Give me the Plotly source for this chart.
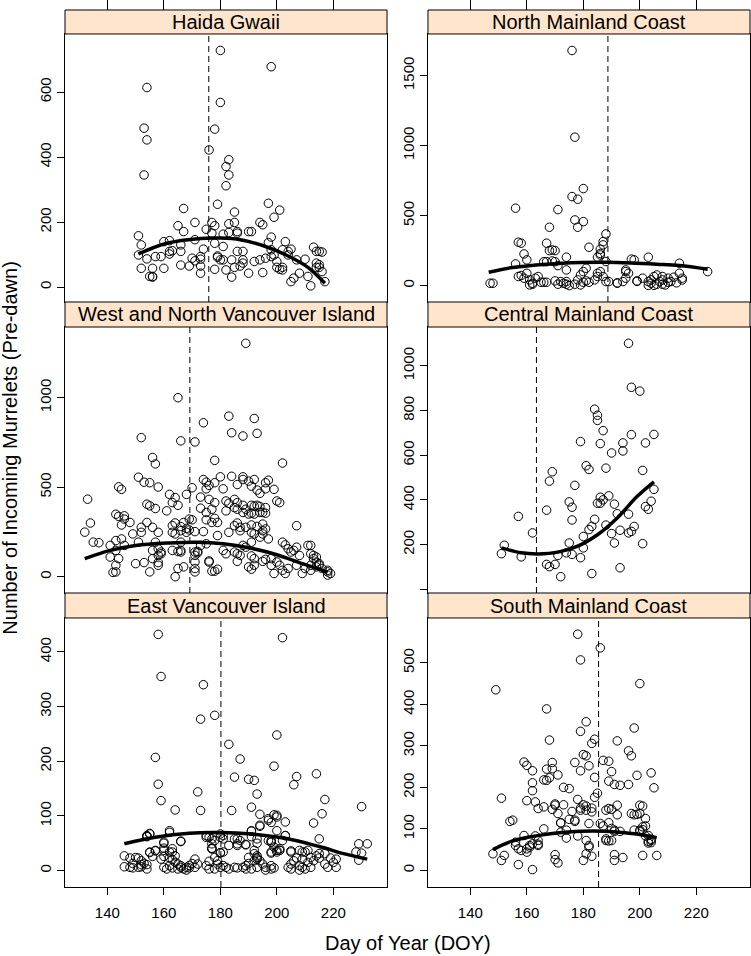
import plotly.graph_objects as go

# ---------------- data (DOY, count) ----------------
panel_names = ["Haida Gwaii", "North Mainland Coast", "West and North Vancouver Island",
               "Central Mainland Coast", "East Vancouver Island", "South Mainland Coast"]

haida_points = [(180,728),(198,678),(154,614),(180,568),(153,489),(154,453),(178,486),(176,422),(153,345),
    (183,392),(182,371),(183,345),(182,312),(179,255),(167,242),(197,258),(201,237),(185,231),(199,215),
    (151,158),(152,130),(151,99),(154,87),(152,58),(156,58),(155,33),(156,33),(156,31),(160,58),(157,94),
    (159,94),(160,140),(162,143),(162,110),(163,112),(162,102),(165,189),(167,171),(166,130),(166,110),
    (166,68),(169,65),(171,199),(171,146),(170,89),(171,81),(173,65),(173,43),(173,86),(174,117),(173,94),
    (175,178),(177,199),(178,189),(177,166),(178,135),(179,92),(180,84),(179,96),(178,55),(181,163),
    (181,125),(181,84),(182,53),(183,195),(183,168),(185,199),(186,166),(186,171),(186,110),(184,84),
    (184,31),(185,61),(187,65),(188,74),(188,84),(188,110),(190,171),(191,171),(190,43),(192,79),(194,84),
    (194,199),(195,192),(195,45),(196,89),(197,137),(198,154),(198,115),(198,94),(199,99),(200,79),
    (200,61),(201,55),(202,61),(202,53),(203,140),(202,115),(204,110),(205,117),(204,99),(206,28),
    (205,17),(207,84),(208,43),(210,86),(211,33),(212,4),(213,123),(214,110),(215,110),(214,74),(215,69),
    (214,61),(215,61),(216,48),(217,17),(216,108)]

north_points = [(176,1679),(177,1060),(180,693),(176,636),(178,617),(156,553),(171,543),(177,469),(180,457),
    (178,417),(168,417),(188,369),(187,314),(157,310),(158,303),(167,303),(182,274),(159,226),(168,250),
    (169,255),(170,250),(160,184),(174,203),(186,260),(186,230),(197,189),(198,184),(203,203),(214,160),
    (156,155),(224,100),(147,17),(148,17),(166,171),(167,171),(171,143),(169,176),(170,171),(174,112),
    (158,72),(157,65),(160,88),(159,53),(161,41),(163,53),(162,10),(161,5),(162,17),(164,65),(165,24),
    (167,24),(166,24),(170,34),(172,29),(173,17),(174,10),(175,0),(177,10),(171,10),(174,29),(178,41),
    (179,76),(180,100),(181,124),(180,24),(181,34),(182,24),(179,5),(185,88),(186,100),(185,65),(187,65),
    (184,41),(186,219),(185,203),(187,291),(188,29),(189,29),(188,172),(192,17),(195,53),(195,100),
    (194,29),(199,34),(201,53),(203,29),(204,41),(205,65),(206,76),(204,17),(206,10),(207,29),(208,41),
    (208,65),(210,53),(210,24),(211,29),(208,10),(209,5),(203,2),(205,2),(214,88),(215,53),(212,60),
    (213,20),(195,112),(196,88),(192,20),(199,30),(215,40)]

west_points = [(189,1304),(165,1000),(183,897),(192,884),(174,860),(184,804),(188,786),(193,801),(152,777),
    (166,759),(171,753),(156,666),(157,630),(178,650),(202,635),(133,433),(132,249),(134,300),(135,193),
    (137,190),(151,556),(153,528),(155,525),(158,501),(144,502),(145,488),(143,349),(144,337),(146,340),
    (145,289),(146,322),(141,110),(143,64),(144,101),(143,27),(142,24),(148,303),(149,239),(152,248),
    (152,276),(154,405),(155,396),(157,381),(154,303),(156,276),(151,193),(158,248),(157,193),(159,138),
    (158,119),(150,73),(153,79),(155,27),(158,79),(158,64),(146,175),(145,211),(143,202),(161,368),
    (162,460),(164,442),(163,414),(165,399),(163,285),(164,300),(163,248),(164,239),(166,257),(166,280),
    (168,460),(169,322),(170,318),(170,497),(167,303),(168,270),(169,261),(168,248),(166,193),(166,147),
    (164,0),(165,46),(167,55),(171,138),(172,141),(171,46),(171,27),(171,82),(171,252),(174,252),
    (173,445),(174,543),(175,528),(175,491),(176,510),(173,383),(175,359),(176,432),(177,377),(178,414),
    (178,326),(179,303),(177,303),(175,318),(179,230),(176,88),(177,31),(179,42),(180,558),(181,491),
    (178,525),(182,423),(183,410),(182,368),(185,432),(186,414),(186,377),(184,561),(186,515),(188,558),
    (188,543),(190,534),(192,543),(191,506),(193,484),(194,466),(196,491),(197,539),(196,525),(199,488),
    (200,423),(201,414),(188,399),(189,377),(191,399),(192,394),(193,399),(194,392),(196,386),(191,355),
    (192,350),(194,359),(195,359),(196,355),(190,350),(185,386),(188,359),(185,285),(186,300),(187,276),
    (187,257),(183,248),(189,276),(191,289),(193,281),(195,257),(195,239),(194,221),(196,267),(197,211),
    (195,294),(192,239),(191,193),(191,248),(202,193),(203,178),(204,156),(205,138),(207,165),(207,285),
    (208,119),(206,147),(185,138),(186,128),(187,119),(189,165),(188,175),(191,116),(192,101),(192,64),
    (190,55),(191,42),(186,86),(195,86),(196,97),(198,101),(200,82),(201,64),(202,36),(204,46),(203,18),
    (199,18),(198,64),(207,64),(209,18),(210,46),(211,175),(212,175),(212,128),(213,119),(213,101),
    (214,110),(214,82),(215,73),(215,64),(216,46),(218,36),(218,27),(219,18),(218,9),(212,64),(212,36),
    (214,55),(141,175),(143,147),(156,147),(158,156),(159,128),(156,101),(163,147),(165,141),(166,138),
    (171,119),(172,134),(173,175),(175,184),(181,147),(182,128),(176,82),(178,31)]

central_points = [(196,1101),(197,904),(200,887),(184,806),(185,779),(185,756),(187,710),(197,692),(205,693),
    (179,661),(186,652),(194,655),(202,655),(190,610),(194,619),(181,553),(182,536),(188,542),(201,532),
    (169,526),(168,484),(177,465),(205,447),(189,418),(186,412),(187,400),(185,385),(186,385),(175,391),
    (191,381),(204,394),(176,367),(202,370),(203,358),(167,354),(157,326),(176,310),(184,313),(192,338),
    (196,336),(183,281),(182,267),(188,287),(198,281),(162,252),(190,249),(193,264),(196,252),(197,259),
    (180,236),(152,197),(175,207),(191,207),(201,204),(151,159),(158,145),(171,151),(176,156),(174,163),
    (180,185),(179,141),(167,111),(168,101),(170,111),(193,96),(183,70),(172,56)]

east_points = [(158,432),(202,426),(159,355),(174,340),(173,277),(178,284),(200,248),(183,231),(157,207),
    (187,204),(199,191),(214,177),(207,172),(185,171),(190,167),(192,165),(158,158),(206,157),(172,144),
    (193,140),(217,130),(159,128),(164,111),(173,110),(184,110),(191,116),(230,117),(213,87),(216,104),
    (194,103),(203,89),(199,102),(200,101),(198,88),(197,95),(194,81),(200,73),(191,72),(162,70),(155,67),
    (154,63),(203,64),(180,67),(177,58),(181,58),(215,58),(202,55),(166,54),(198,52),(229,49),(232,49),
    (160,50),(157,36),(155,33),(156,26),(181,34),(201,37),(200,34),(205,36),(198,32),(186,49),(189,47),
    (177,40),(230,32),(228,34),(229,19),(211,37),(209,34),
    (146,27),(148,23),(150,24),(151,23),(152,18),(153,13),(154,11),(146,7),(148,6),(149,5),(151,6),
    (152,7),(154,3),(149,13),(152,11),
    (159,21),(160,26),(162,23),(163,20),(164,15),(165,12),(166,9),(168,6),(169,9),(170,13),(171,21),
    (160,6),(161,3),(162,9),(163,5),(165,3),(166,6),(167,3),(168,1),(169,5),(171,6),(172,12),(160,37),
    (162,34),(160,52),(164,27),(157,37),(155,34),(154,64),(155,68),(162,73),
    (175,9),(176,17),(178,24),(179,12),(180,6),(181,9),(182,6),(183,3),(185,6),(186,5),(176,3),(178,3),
    (179,18),(180,32),(177,40),(180,61),(178,55),(181,64),(175,64),(183,46),(185,58),(187,55),
    (188,6),(189,9),(190,13),(192,18),(193,21),(194,18),(195,12),(196,6),(198,3),(199,5),(189,3),(191,3),
    (193,6),(196,1),(198,9),(190,24),(192,37),(193,27),(197,55),(198,52),(199,43),(200,37),(201,37),
    (204,6),(205,12),(206,18),(207,23),(208,9),(209,6),(211,15),(212,24),(213,18),(214,27),(215,23),
    (217,12),(218,6),(219,23),(220,15),(221,21),(205,3),(208,1),(210,3),(212,6),(215,31),(217,31),(221,6),
    (210,34),(208,37),(205,34),(209,21),
    (154,62),(166,53),(160,41),(163,40),(163,34),(175,61),(176,61),(177,41),(177,49),(180,33),(186,58),
    (186,46),(189,48),(191,73),(191,62),(193,50),(193,58),(192,31),(193,24),(194,83),(197,92),(200,98),
    (203,64),(198,55),(201,40),(198,34)]

south_points = [(178,569),(186,536),(179,507),(200,450),(149,435),(167,389),(181,358),(198,343),(179,335),
    (184,316),(183,306),(168,314),(192,312),(180,279),(181,276),(196,288),(197,276),(159,261),(160,253),
    (177,260),(187,265),(189,263),(169,260),(182,252),(162,240),(167,244),(169,245),(179,240),(190,238),
    (204,235),(171,230),(199,229),(168,223),(167,217),(166,218),(184,224),(162,211),(189,215),(193,205),
    (191,207),(196,207),(173,200),(175,197),(205,199),(162,192),(185,186),(184,176),(151,174),(178,171),
    (160,168),(163,165),(170,160),(173,158),(176,142),(180,158),(181,155),(183,150),(183,141),(192,157),
    (201,155),(164,149),(166,153),(169,147),(171,137),(179,150),(188,145),(189,149),(190,147),(192,134),
    (197,137),(198,134),(200,137),(202,125),(154,118),(155,121),(175,123),(177,118),(172,115),(182,113),
    (186,113),(187,107),(189,115),(202,107),(166,100),(159,84),(156,68),(163,83),(164,72),(162,64),
    (164,60),(174,97),(172,92),(178,83),(181,72),(182,60),(174,78),(188,72),(190,72),(193,94),(191,94),
    (200,94),(201,98),(202,83),(203,70),(204,67),(204,75),(156,60),(157,52),(158,48),(160,52),(161,60),
    (160,44),(148,40),(151,24),(152,36),(157,14),(162,2),(170,38),(170,26),(171,18),(180,24),(181,40),
    (182,56),(183,34),(191,38),(191,24),(194,31),(201,36),(206,36),(161,56),(164,63),(172,114),(177,121),
    (179,145),(181,145),(170,157),(188,76),(190,101),(191,97),(189,71),(198,97),(200,97),(201,105),
    (203,84),(204,72),(203,66),(199,135),(200,157)]

# fitted trend curves
haida_curve = [(151,102),(161,135),(173,150),(180,151),(187,146),(196,125),(204,96),(211,61),(217,12)]
north_curve = [(146.5,95),(155,129),(167,153),(179,165),(188,167),(197,162),(206,153),(214,143),(224,117)]
west_curve = [(132,101),(141,147),(150,175),(162,189),(172,193),(181,184),(190.5,160),(200,123),(209,73),(218,26)]
central_curve = [(151,185),(158,163),(164,158),(171,166),(178,193),(185,244),(192,319),(199,415),(205,481)]
east_curve = [(146,49),(157,61),(169,68.5),(180,69.7),(191,67),(203,59),(215,44),(224,30.6),(232,21)]
south_curve = [(148,50),(155,71),(167,87),(179,94),(188,94),(198,88),(206,79)]

# vertical dashed reference (DOY)
ref_doy = [175.9, 188.7, 169.2, 163.4, 180.2, 185.4]

y_ranges = [(-45.6, 778.6), (-117, 1797), (-91, 1395), (-17, 1174), (-30, 462), (-40, 608)]
y_tickvals = [[0, 200, 400, 600], [0, 500, 1000, 1500], [0, 500, 1000],
              [0, 200, 400, 600, 800, 1000], [0, 100, 200, 300, 400], [0, 100, 200, 300, 400, 500]]
y_ticktext = [["0", "200", "400", "600"], ["0", "500", "1000", "1500"], ["0", "500", "1000"],
              ["", "200", "400", "600", "800", "1000"], ["0", "100", "200", "300", "400"],
              ["0", "100", "200", "300", "400", "500"]]
x_tickvals = [140, 160, 180, 200, 220]

points = [haida_points, north_points, west_points, central_points, east_points, south_points]
curves = [haida_curve, north_curve, west_curve, central_curve, east_curve, south_curve]

# ---------------- layout geometry ----------------
W, H = 751, 956
ML, MR, MT, MB = 65, 1, 0, 69
col_dom = [[0.0, 0.4701], [0.5299, 1.0]]
panel_dom = [[0.65953, 0.96167], [0.33145, 0.63134], [0.0, 0.30327]]
strip_dom = [[0.96167, 0.98873], [0.63134, 0.65953], [0.30327, 0.33145]]
tickband_dom = [0.98873, 1.0]

FONT = "Liberation Sans, Arial, Helvetica, sans-serif"
fig = go.Figure()
shapes, annotations = [], []
layout = dict(width=W, height=H, margin=dict(l=ML, r=MR, t=MT, b=MB),
              paper_bgcolor="white", plot_bgcolor="white", showlegend=False,
              font=dict(family=FONT, color="black"))

for i in range(6):
    n = i + 1
    row, col = i // 2, i % 2
    xa = "x" if n == 1 else f"x{n}"
    ya = "y" if n == 1 else f"y{n}"
    xs = [p[0] for p in points[i]]
    ys = [p[1] for p in points[i]]
    fig.add_trace(go.Scatter(x=xs, y=ys, mode="markers", xaxis=xa, yaxis=ya,
                             marker=dict(symbol="circle-open", size=8.5, color="black",
                                         line=dict(width=1, color="black")),
                             hoverinfo="skip"))
    cx = [p[0] for p in curves[i]]
    cy = [p[1] for p in curves[i]]
    fig.add_trace(go.Scatter(x=cx, y=cy, mode="lines", xaxis=xa, yaxis=ya,
                             line=dict(color="black", width=3.5, shape="spline"),
                             hoverinfo="skip"))
    bottom = row == 2
    layout["xaxis" if n == 1 else f"xaxis{n}"] = dict(
        domain=col_dom[col], anchor=ya, range=[125, 239], showgrid=False, zeroline=False,
        showline=True, linecolor="black", linewidth=1, mirror=True,
        ticks="outside" if bottom else "", ticklen=7, tickcolor="black",
        tickvals=x_tickvals, showticklabels=bottom, tickfont=dict(size=15, family=FONT),
        ticklabelstandoff=5)
    layout["yaxis" if n == 1 else f"yaxis{n}"] = dict(
        domain=panel_dom[row], anchor=xa, range=list(y_ranges[i]), showgrid=False, zeroline=False,
        showline=True, linecolor="black", linewidth=1, mirror=True,
        ticks="outside", ticklen=7, tickcolor="black", tickangle=-90,
        tickvals=y_tickvals[i], ticktext=y_ticktext[i], tickfont=dict(size=15, family=FONT),
        ticklabelstandoff=0)
    # dashed reference line
    shapes.append(dict(type="line", xref=xa, yref=f"{ya} domain", x0=ref_doy[i], x1=ref_doy[i],
                       y0=0, y1=1, line=dict(color="black", width=1, dash="6px,4px")))
    # strip
    shapes.append(dict(type="rect", xref="paper", yref="paper", x0=col_dom[col][0], x1=col_dom[col][1],
                       y0=strip_dom[row][0], y1=strip_dom[row][1], fillcolor="#FFE5CC",
                       line=dict(color="black", width=1)))
    annotations.append(dict(xref="paper", yref="paper", x=sum(col_dom[col]) / 2,
                            y=sum(strip_dom[row]) / 2, text=panel_names[i], showarrow=False,
                            xanchor="center", yanchor="middle", font=dict(size=20, family=FONT)))

# top tick marks above the top strips: thin helper subplots
for k, col in [(7, 0), (8, 1)]:
    fig.add_trace(go.Scatter(x=[None], y=[None], xaxis=f"x{k}", yaxis=f"y{k}",
                             mode="markers", hoverinfo="skip"))
    layout[f"xaxis{k}"] = dict(domain=col_dom[col], anchor=f"y{k}", range=[125, 239],
                               showgrid=False, zeroline=False, showline=False,
                               ticks="inside", ticklen=10, tickcolor="black", tickvals=x_tickvals,
                               showticklabels=False)
    layout[f"yaxis{k}"] = dict(domain=tickband_dom, anchor=f"x{k}", range=[0, 1], visible=False)

annotations.append(dict(xref="paper", yref="paper", x=0.5, y=-0.0631, text="Day of Year (DOY)",
                        showarrow=False, xanchor="center", yanchor="middle",
                        font=dict(size=20, family=FONT)))
annotations.append(dict(xref="paper", yref="paper", x=-0.08, y=0.4944, textangle=-90,
                        text="Number of Incoming Murrelets (Pre-dawn)", showarrow=False,
                        xanchor="center", yanchor="middle", font=dict(size=20, family=FONT)))

layout["shapes"] = shapes
layout["annotations"] = annotations
fig.update_layout(**layout)
fig.write_html("out.html", config={"displayModeBar": False},
               post_script="document.body.style.margin='0';document.body.style.padding='0';"
                           "document.body.style.overflow='hidden';")
